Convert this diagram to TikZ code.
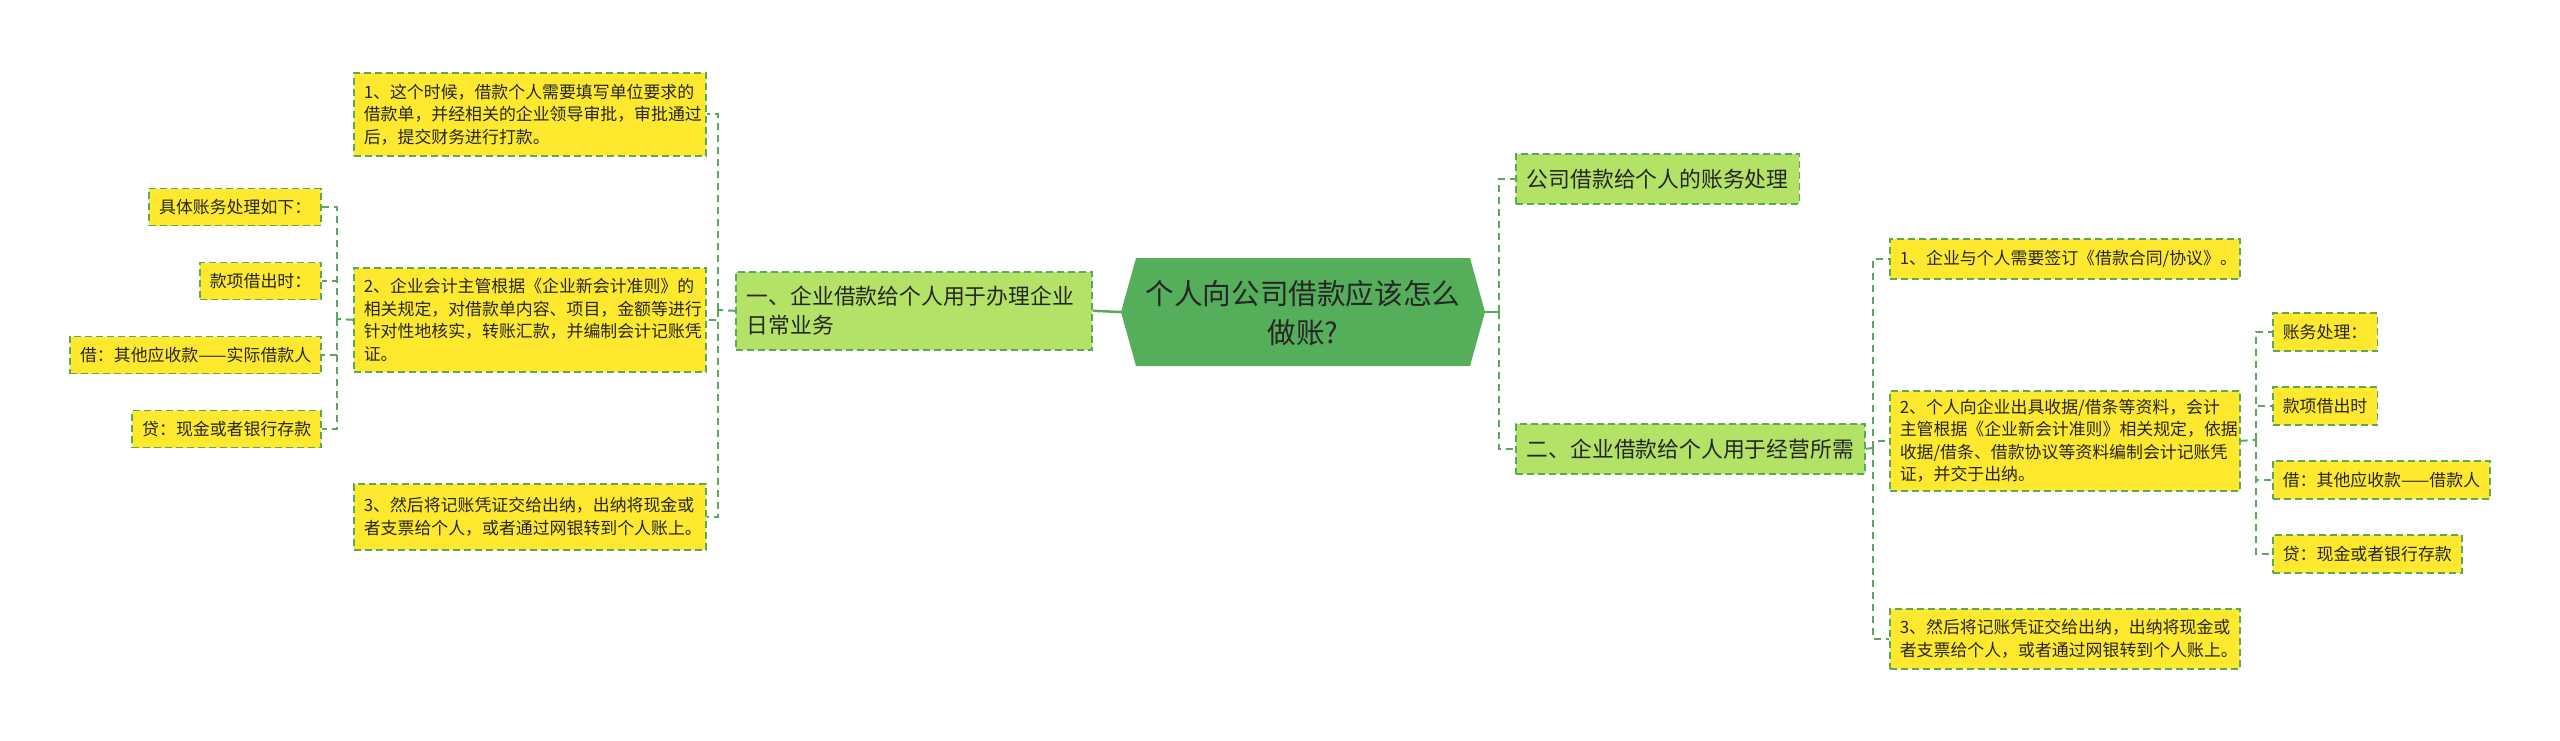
\documentclass[tikz,border=0pt]{standalone}
\usepackage{fontspec}
\setmainfont{Noto Sans CJK SC}
\definecolor{yel}{HTML}{FFE92F}
\definecolor{lgr}{HTML}{B3E267}
\definecolor{cg}{HTML}{55AF5A}
\definecolor{lc}{HTML}{5AA85A}
\definecolor{txt}{HTML}{262626}
\begin{document}
\begin{tikzpicture}[x=1pt,y=-1pt,
  conn/.style={draw=lc, line width=2pt, dash pattern=on 7pt off 5pt},
  solidconn/.style={draw=lc, line width=2.5pt},
  boxbase/.style={draw=lc, line width=1.6pt, dash pattern=on 7pt off 4pt, inner xsep=10pt, inner ysep=0pt, align=left, text=txt},
  ybox/.style={boxbase, fill=yel, font=\fontsize{16.9}{22.5}\selectfont},
  gbox/.style={boxbase, fill=lgr, inner xsep=11pt, font=\fontsize{21.8}{29}\selectfont},
  ctext/.style={text=txt, align=center, font=\fontsize{28.6}{39}\selectfont}]
\fill[white] (0,0) rectangle (2560,740);
\useasboundingbox (0,0) rectangle (2560,740);

% central
\fill[cg] (1121,312) -- (1136,258) -- (1470,258) -- (1485,312) -- (1470,366) -- (1136,366) -- cycle;
\node[ctext] (C) at (1303,313) {个人向公司借款应该怎么\\做账?};
\coordinate (Cl) at (1121,312);
\coordinate (Cr) at (1485,312);

% left branch
\node[gbox, anchor=north west, minimum width=356pt, minimum height=78pt, text width=334pt] (G1) at (735,271)
  {一、企业借款给个人用于办理企业\\日常业务};
\node[ybox, anchor=north west, minimum width=352pt, minimum height=83pt, text width=332pt] (L1) at (353,72)
  {1、这个时候，借款个人需要填写单位要求的\\借款单，并经相关的企业领导审批，审批通过\\后，提交财务进行打款。};
\node[ybox, anchor=north west, minimum width=352pt, minimum height=104pt, text width=332pt] (L2) at (353,267)
  {2、企业会计主管根据《企业新会计准则》的\\相关规定，对借款单内容、项目，金额等进行\\针对性地核实，转账汇款，并编制会计记账凭\\证。};
\node[ybox, anchor=north west, minimum width=352pt, minimum height=66pt, text width=332pt] (L3) at (353,483)
  {3、然后将记账凭证交给出纳，出纳将现金或\\者支票给个人，或者通过网银转到个人账上。};

\node[ybox, anchor=east, minimum height=37pt] (A1) at (322,207) {具体账务处理如下：};
\node[ybox, anchor=east, minimum height=37pt] (A2) at (322,281) {款项借出时：};
\node[ybox, anchor=east, minimum height=37pt] (A3) at (322,355) {借：其他应收款——实际借款人};
\node[ybox, anchor=east, minimum height=37pt] (A4) at (322,429) {贷：现金或者银行存款};

% right branch
\node[gbox, anchor=north west, minimum width=279pt, minimum height=50pt] (GA) at (1515,153) {公司借款给个人的账务处理};
\node[gbox, anchor=north west, minimum width=343pt, minimum height=50pt] (GB) at (1515,423) {二、企业借款给个人用于经营所需};

\node[ybox, anchor=north west, minimum width=350pt, minimum height=40pt, text width=330pt] (R1) at (1889,238)
  {1、企业与个人需要签订《借款合同/协议》。};
\node[ybox, anchor=north west, minimum width=350pt, minimum height=100pt, text width=330pt] (R2) at (1889,390)
  {2、个人向企业出具收据/借条等资料，会计\\主管根据《企业新会计准则》相关规定，依据\\收据/借条、借款协议等资料编制会计记账凭\\证，并交于出纳。};
\node[ybox, anchor=north west, minimum width=350pt, minimum height=60pt, text width=330pt] (R3) at (1889,608)
  {3、然后将记账凭证交给出纳，出纳将现金或\\者支票给个人，或者通过网银转到个人账上。};

\node[ybox, anchor=west, minimum height=38pt] (B1) at (2272,332) {账务处理：};
\node[ybox, anchor=west, minimum height=38pt] (B2) at (2272,406) {款项借出时};
\node[ybox, anchor=west, minimum height=38pt] (B3) at (2272,480) {借：其他应收款——借款人};
\node[ybox, anchor=west, minimum height=38pt] (B4) at (2272,554) {贷：现金或者银行存款};

% connectors left
\draw[solidconn] (Cl) -- (G1.east);
\coordinate (sL) at (718,310);
\draw[conn] (G1.west) -- (sL);
\draw[conn] (sL) |- (L1.east);
\draw[conn] (sL) |- (L2.east);
\draw[conn] (sL) |- (L3.east);
\coordinate (sFL) at (337,319);
\draw[conn] (L2.west) -- (sFL);
\draw[conn] (sFL) |- (A1.east);
\draw[conn] (sFL) |- (A2.east);
\draw[conn] (sFL) |- (A3.east);
\draw[conn] (sFL) |- (A4.east);

% connectors right
\coordinate (sR) at (1499,312);
\draw[solidconn] (Cr) -- (sR);
\draw[conn] (sR) |- (GA.west);
\draw[conn] (sR) |- (GB.west);
\coordinate (sR2) at (1873,448);
\draw[conn] (GB.east) -- (sR2);
\draw[conn] (sR2) |- (R1.west);
\draw[conn] (sR2) |- (R2.west);
\draw[conn] (sR2) |- (R3.west);
\coordinate (sR3) at (2256,440);
\draw[conn] (R2.east) -- (sR3);
\draw[conn] (sR3) |- (B1.west);
\draw[conn] (sR3) |- (B2.west);
\draw[conn] (sR3) |- (B3.west);
\draw[conn] (sR3) |- (B4.west);
\end{tikzpicture}
\end{document}
